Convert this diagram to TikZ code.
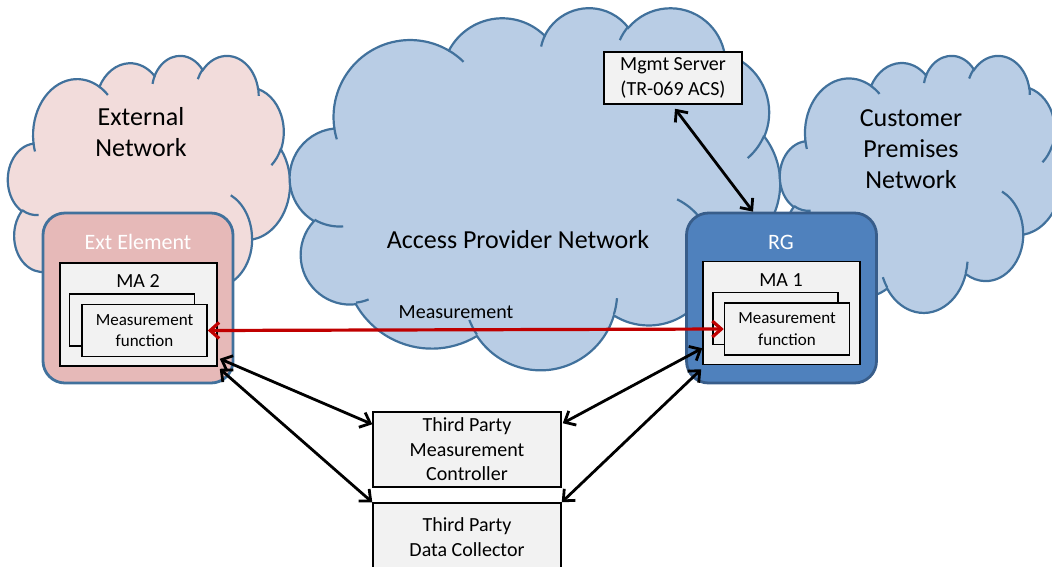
\documentclass[tikz,border=0pt]{standalone}
\usepackage{fontspec}
\setmainfont{Carlito}
\usetikzlibrary{arrows.meta,calc}
\definecolor{pinkfill}{HTML}{F2DCDB}
\definecolor{bluefill}{HTML}{B9CDE5}
\definecolor{cloudline}{HTML}{41719C}
\definecolor{extfill}{HTML}{E6B9B8}
\definecolor{rgfill}{HTML}{4F81BD}
\definecolor{rgline}{HTML}{385D8A}
\definecolor{boxfill}{HTML}{F2F2F2}
\definecolor{redarrow}{HTML}{C00000}

\newcommand\cldcalc[5]{%
  \pgfmathsetmacro\cldtmpa{atan2((#2)*sin(#4),(#3)*cos(#4))}%
  \pgfmathsetmacro\cldtmpb{atan2((#2)*sin((#4)+(#5)),(#3)*cos((#4)+(#5)))}%
  \pgfmathsetmacro\cldtmpd{mod((\cldtmpb)-(\cldtmpa)+720,360)}%
  \expandafter\xdef\csname cldS#1\endcsname{\cldtmpa}%
  \expandafter\xdef\csname cldD#1\endcsname{\cldtmpd}%
}

\newcommand\cloudoutline{(39,143.7)
  arc[start angle=\cldSoa,delta angle=\cldDoa,x radius=67.53,y radius=91.90]
  arc[start angle=\cldSob,delta angle=\cldDob,x radius=53.33,y radius=72.67]
  arc[start angle=\cldSoc,delta angle=\cldDoc,x radius=43.65,y radius=59.45]
  arc[start angle=\cldSod,delta angle=\cldDod,x radius=48.57,y radius=65.95]
  arc[start angle=\cldSoe,delta angle=\cldDoe,x radius=53.33,y radius=72.73]
  arc[start angle=\cldSof,delta angle=\cldDof,x radius=67.75,y radius=92.20]
  arc[start angle=\cldSog,delta angle=\cldDog,x radius=57.85,y radius=78.67]
  arc[start angle=\cldSoh,delta angle=\cldDoh,x radius=67.52,y radius=92.15]
  arc[start angle=\cldSoi,delta angle=\cldDoi,x radius=77.20,y radius=105.43]
  arc[start angle=\cldSoj,delta angle=\cldDoj,x radius=43.60,y radius=59.18]
  arc[start angle=\cldSok,delta angle=\cldDok,x radius=43.45,y radius=59.45]
  -- cycle}

\newcommand\cloudinner{
  (46.93,261.77) arc[start angle=\cldSia,delta angle=\cldDia,x radius=43.45,y radius=59.45]
  (69.28,348.99) arc[start angle=\cldSib,delta angle=\cldDib,x radius=43.60,y radius=59.18]
  (164.78,390.90) arc[start angle=\cldSic,delta angle=\cldDic,x radius=67.52,y radius=92.15]
  (288.27,347.51) arc[start angle=\cldSid,delta angle=\cldDid,x radius=67.52,y radius=92.15]
  (341.29,229.54) arc[start angle=\cldSie,delta angle=\cldDie,x radius=57.85,y radius=78.67]
  (417.98,153.54) arc[start angle=\cldSif,delta angle=\cldDif,x radius=53.33,y radius=72.73]
  (383.24,54.26) arc[start angle=\cldSig,delta angle=\cldDig,x radius=48.57,y radius=65.95]
  (290.78,39.52) arc[start angle=\cldSih,delta angle=\cldDih,x radius=48.57,y radius=65.95]
  (221.41,47.20) arc[start angle=\cldSii,delta angle=\cldDii,x radius=43.65,y radius=59.45]
  (140.00,51.92) arc[start angle=\cldSij,delta angle=\cldDij,x radius=67.53,y radius=91.90]
  (41.27,157.89) arc[start angle=\cldSik,delta angle=\cldDik,x radius=67.53,y radius=91.90]}

\tikzset{
  cloudshape/.style={draw=cloudline, line width=2.2pt},
  element/.style={rounded corners=22pt, line width=2.8pt, minimum width=190pt, minimum height=170pt, inner sep=0pt},
  mabox/.style={draw=black, fill=boxfill, line width=1.5pt, minimum width=157pt, minimum height=103pt, inner sep=0pt},
  mfbox/.style={draw=black, fill=boxfill, line width=1.5pt, minimum width=125pt, minimum height=52pt, inner sep=0pt, align=center, font=\fontsize{17}{21.5}\selectfont},
  tpbox/.style={draw=black, fill=boxfill, line width=1.5pt, minimum width=188pt, inner sep=0pt, align=center, font=\fontsize{20}{24.5}\selectfont},
  cloudtext/.style={align=center, font=\fontsize{26}{31}\selectfont},
  eltext/.style={text=white, font=\fontsize{22}{26}\selectfont},
  matext/.style={font=\fontsize{20}{24}\selectfont},
  conn/.style={draw=black, line width=2.8pt, {Straight Barb[length=9pt,width=16pt]}-{Straight Barb[length=9pt,width=16pt]}},
  measconn/.style={draw=redarrow, line width=3.2pt, {Straight Barb[length=9pt,width=16pt]}-{Straight Barb[length=9pt,width=16pt]}}
}

\begin{document}
\begin{tikzpicture}[x=1pt,y=-1pt]
\useasboundingbox (0,0) rectangle (1052,566);
\clip (0,0) rectangle (1052,566);

\cldcalc{oa}{67.53}{91.90}{-190.4875}{123.7805}
\cldcalc{ob}{53.33}{72.67}{-144.1024}{89.9452}
\cldcalc{oc}{43.65}{59.45}{-145.8079}{99.7230}
\cldcalc{od}{48.57}{65.95}{-130.9861}{117.2417}
\cldcalc{oe}{53.33}{72.73}{-78.7089}{109.0269}
\cldcalc{of}{67.75}{92.20}{-46.2673}{130.2690}
\cldcalc{og}{57.85}{78.67}{0.6250}{114.0333}
\cldcalc{oh}{67.52}{92.15}{22.4516}{115.1726}
\cldcalc{oi}{77.20}{105.43}{66.2426}{75.7110}
\cldcalc{oj}{43.60}{59.18}{-274.9421}{146.7356}
\cldcalc{ok}{43.45}{59.45}{-246.8285}{152.5189}
\cldcalc{ia}{43.45}{59.45}{86.7420}{26.4295}
\cldcalc{ib}{43.60}{59.18}{73.6105}{11.4475}
\cldcalc{ic}{67.52}{92.15}{137.6242}{14.0811}
\cldcalc{id}{67.52}{92.15}{6.4533}{15.9984}
\cldcalc{ie}{57.85}{78.67}{-70.2924}{70.9174}
\cldcalc{if}{53.33}{72.73}{30.3180}{27.7515}
\cldcalc{ig}{48.57}{65.95}{-13.7443}{14.8589}
\cldcalc{ih}{48.57}{65.95}{-149.1815}{18.1954}
\cldcalc{ii}{43.65}{59.45}{-163.4943}{17.6864}
\cldcalc{ij}{67.53}{91.90}{-66.7070}{12.3194}
\cldcalc{ik}{67.53}{91.90}{157.6544}{11.8582}

% clouds
\begin{scope}[shift={(8,55)},x=0.65278pt,y=-0.61111pt]
  \draw[cloudshape, fill=pinkfill] \cloudoutline;
  \draw[cloudshape] \cloudinner;
\end{scope}
\begin{scope}[shift={(290,7)},x=1.13426pt,y=-0.83796pt]
  \draw[cloudshape, fill=bluefill] \cloudoutline;
  \draw[cloudshape] \cloudinner;
\end{scope}
\begin{scope}[shift={(780,55)},x=0.65046pt,y=-0.59491pt]
  \draw[cloudshape, fill=bluefill] \cloudoutline;
  \draw[cloudshape] \cloudinner;
\end{scope}

\node[cloudtext] (extnet) at (141,132.5) {External\\Network};
\node[cloudtext] (apnet) at (518,240) {Access Provider Network};
\node[cloudtext] (cpnet) at (911,149) {Customer\\Premises\\Network};

% Ext element
\node[element, draw=cloudline, fill=extfill] (ext) at (138,298) {};
\node[eltext] (extlbl) at (138,242) {Ext Element};
\node[mabox] (ma2) at (138.5,314.5) {};
\node[matext] (ma2lbl) at (138,281) {MA 2};
\node[mfbox] (ma2b) at (132,320) {};
\node[mfbox] (ma2f) at (144.5,330.5) {Measurement\\function};

% RG
\node[element, draw=rgline, fill=rgfill] (rg) at (781.5,298) {};
\node[eltext] (rglbl) at (781,242) {RG};
\node[mabox] (ma1) at (781.5,313) {};
\node[matext] (ma1lbl) at (781,280) {MA 1};
\node[mfbox] (ma1b) at (775.5,318.5) {};
\node[mfbox] (ma1f) at (787,329) {Measurement\\function};

% other boxes
\node[tpbox, minimum width=138pt, minimum height=52pt] (mgmt) at (673,78) {Mgmt Server\\(TR-069 ACS)};
\node[tpbox, minimum height=75pt] (ctrl) at (467,449.5) {Third Party\\Measurement\\Controller};
\node[tpbox, minimum height=68pt] (coll) at (467,537) {Third Party\\Data Collector};

\node[matext] (measlbl) at (456,312) {Measurement};

% connectors
\draw[measconn] (ma2f.east) -- (ma1f.west);
\draw[conn] ($(ma2.south east)+(2,-8)$) -- ($(ctrl.north west)+(0,13)$);
\draw[conn] ($(ma2.south east)+(2,2)$) -- (coll.north west);
\draw[conn] ($(ma1.south west)+(0,-17)$) -- ($(ctrl.north east)+(1,12)$);
\draw[conn] ($(ma1.south west)+(-1,4)$) -- (coll.north east);
\draw[conn] ($(mgmt.south)+(2,4)$) -- ($(rg.north)+(-28.5,0)$);
\end{tikzpicture}
\end{document}
